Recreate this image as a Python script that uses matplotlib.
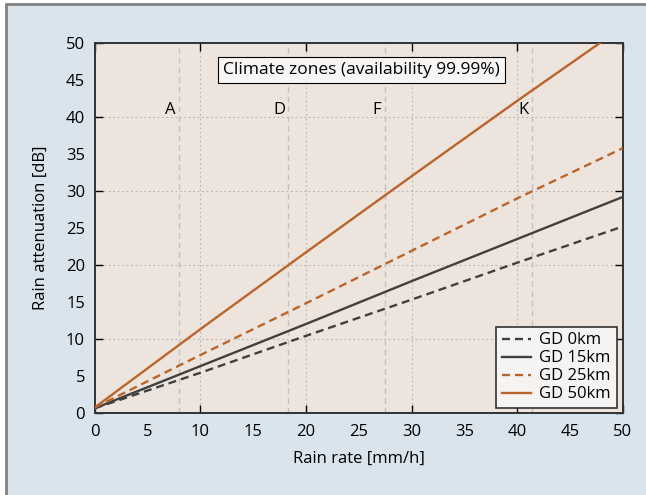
"""
Rain attenuation vs. rain rate for several ground distances (GD),
with ITU climate-zone rain rates marked as vertical lines.
"""
import matplotlib
matplotlib.use("Agg")
import matplotlib.pyplot as plt
from matplotlib.patches import Rectangle

plt.rcParams["font.family"] = ["Open Sans", "DejaVu Sans"]

# ─── data ─────────────────────────────────────────────────────────────────────
rain_rate = [0, 10, 20, 30, 40, 50]                 # mm/h
att_gd0 = [0.6, 5.4, 10.4, 15.3, 20.3, 25.2]        # dB
att_gd15 = [0.6, 6.3, 12.0, 17.8, 23.5, 29.2]
att_gd25 = [0.7, 7.8, 14.8, 21.9, 29.0, 35.8]
att_gd50 = [0.7, 11.3, 21.7, 32.0, 42.2, 52.2]

zone_names = ["A", "D", "F", "K"]
zone_rates = [8.0, 18.3, 27.5, 41.4]               # mm/h exceeded 0.01% of time

series_labels = ["GD 0km", "GD 15km", "GD 25km", "GD 50km"]
box_title = "Climate zones (availability 99.99%)"

# ─── style ────────────────────────────────────────────────────────────────────
BG = "#d9e4ed"
FACE = "#ede4de"
ORANGE = "#b9652c"
GRAY = "#404040"
FS = 12

fig = plt.figure(figsize=(6.46, 4.95), dpi=100, facecolor="white")
fig.patches.append(Rectangle((5.5 / 646, -0.05), 1.1, 1.05 - 3.7 / 495,
                             transform=fig.transFigure, facecolor=BG,
                             edgecolor="#808080", lw=2.0, zorder=-10))

ax = fig.add_axes([94.7 / 646, 1 - 412.7 / 495, 528 / 646, 369.4 / 495])
ax.set_facecolor(FACE)

dash = (0, (3.4, 2.1))
ax.plot(rain_rate, att_gd0, color=GRAY, lw=1.7, ls=dash, label=series_labels[0], zorder=3)
ax.plot(rain_rate, att_gd15, color=GRAY, lw=1.7, label=series_labels[1], zorder=3)
ax.plot(rain_rate, att_gd25, color=ORANGE, lw=1.7, ls=dash, label=series_labels[2], zorder=3)
ax.plot(rain_rate, att_gd50, color=ORANGE, lw=1.7, label=series_labels[3], zorder=3)

# zonas climáticas
for name, r in zip(zone_names, zone_rates):
    ax.axvline(r, color="#c4c0bc", lw=1.0, ls=(0, (4, 3)), zorder=1)
    ax.text(r - 0.8, 41.0, name, fontsize=FS, ha="center", va="center", zorder=4)

ax.text(25.3, 46.4, box_title, fontsize=12.5, ha="center", va="center", zorder=5,
        bbox=dict(boxstyle="square,pad=0.3", facecolor="#f8f6f4",
                  edgecolor="black", lw=0.8))

ax.set_xlim(0, 50)
ax.set_ylim(0, 50)

# rótulos a cada 5, marcas e grade a cada 10
ticks10 = [0, 10, 20, 30, 40, 50]
ticks5 = [5, 15, 25, 35, 45]
for axis in (ax.xaxis, ax.yaxis):
    axis.set_ticks(ticks10, labels=[str(t) for t in ticks10])
    axis.set_ticks(ticks5, labels=[str(t) for t in ticks5], minor=True)
ax.tick_params(which="major", direction="in", length=6, width=1.0,
               top=True, right=True, labelsize=FS, color="black")
ax.tick_params(which="minor", length=0, labelsize=FS)
ax.tick_params(axis="x", which="both", pad=8)
ax.tick_params(axis="y", which="both", pad=7)
ax.grid(which="major", color="#b8b4b0", lw=0.8, ls=(0, (1.5, 2.5)), zorder=0)
ax.set_axisbelow(True)

for s in ax.spines.values():
    s.set_color("#333333")
    s.set_linewidth(1.4)

ax.set_xlabel("Rain rate [mm/h]", fontsize=FS, labelpad=8)
ax.set_ylabel("Rain attenuation [dB]", fontsize=FS, labelpad=12)

leg = ax.legend(loc="lower right", bbox_to_anchor=(0.989, 0.012), borderaxespad=0,
                fontsize=FS, handlelength=1.75, handletextpad=0.5,
                labelspacing=0.12, borderpad=0.35, fancybox=False,
                framealpha=1.0, facecolor="#f6f4f2", edgecolor="#333333")
leg.get_frame().set_linewidth(1.2)

fig.savefig("out.png", dpi=100, facecolor=fig.get_facecolor())
